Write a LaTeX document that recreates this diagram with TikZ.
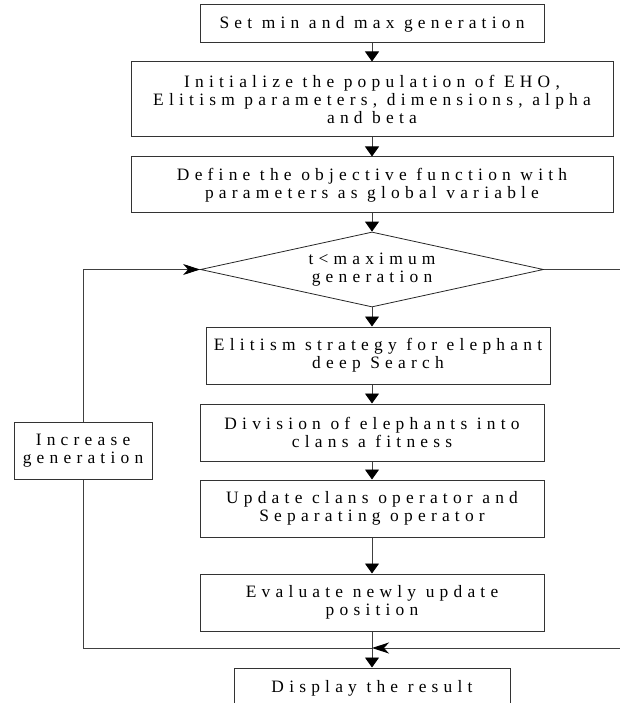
\documentclass[tikz,border=0pt]{standalone}
\usepackage{fontspec}
\setmainfont{Liberation Serif}[LetterSpace=30]
\usetikzlibrary{arrows.meta,shapes.geometric,calc}
\begin{document}
\begin{tikzpicture}[x=1pt,y=-1pt,
  every node/.style={font=\fontsize{17.4}{17.8}\selectfont, align=center, inner sep=0pt},
  box/.style={draw=black!80, line width=1pt, rectangle},
  ln/.style={draw=black!75, line width=0.9pt},
  arr/.style={ln, -{Triangle[length=10pt,width=14pt,fill=black,color=black]}},
  sarr/.style={ln, -{Stealth[length=17pt,width=11pt,inset=5pt,fill=black,color=black]}}]
\useasboundingbox (0,0) rectangle (620,703);

\node[box, minimum width=344pt, minimum height=38pt] (b1) at (372,24) {Set min and max generation};
\node[box, minimum width=482pt, minimum height=75pt] (b2) at (372,99.5) {Initialize the population of EHO,\\Elitism parameters, dimensions, alpha\\and beta};
\node[box, minimum width=482pt, minimum height=56pt] (b3) at (372,185) {Define the objective function with\\parameters as global variable};
\node[draw=black!85, line width=0.8pt, shape=diamond, minimum width=343pt, minimum height=75pt] (dia) at (372,269.5) {};
\node (diat) at (372,269.5) {t<maximum\\generation};
\node[box, minimum width=344pt, minimum height=57pt] (b4) at (378,355.5) {Elitism strategy for elephant\\deep Search};
\node[box, minimum width=344pt, minimum height=57pt] (b5) at (372,432.5) {Division of elephants into\\clans a fitness};
\node[box, minimum width=344pt, minimum height=57pt] (b6) at (372,508.5) {Update clans operator and\\Separating operator};
\node[box, minimum width=344pt, minimum height=57pt] (b7) at (372,602.5) {Evaluate newly update\\position};
\node[box, minimum width=276pt, minimum height=40pt] (b8) at (372,688) {Display the result};
\node[box, minimum width=138pt, minimum height=57pt] (inc) at (83,450.5) {Increase\\generation};

\coordinate (jl) at (372,648);
\coordinate (rt) at (626,269.5);
\coordinate (rb) at (626,648);

\draw[arr] (b1) -- (b2);
\draw[arr] (b2) -- (b3);
\draw[arr] (b3) -- (dia);
\draw[arr] (dia.south) -- (dia.south |- b4.north);
\draw[arr] (b5.north |- b4.south) -- (b5.north);
\draw[arr] (b5) -- (b6);
\draw[arr] (b6) -- (b7);
\draw[arr] (b7) -- (b8);
\draw[sarr] (dia.east) -- (rt) -- (rb) -- (jl);
\draw[ln] (jl) -| (inc.south);
\draw[sarr] (inc.north) |- (dia.west);
\end{tikzpicture}
\end{document}
